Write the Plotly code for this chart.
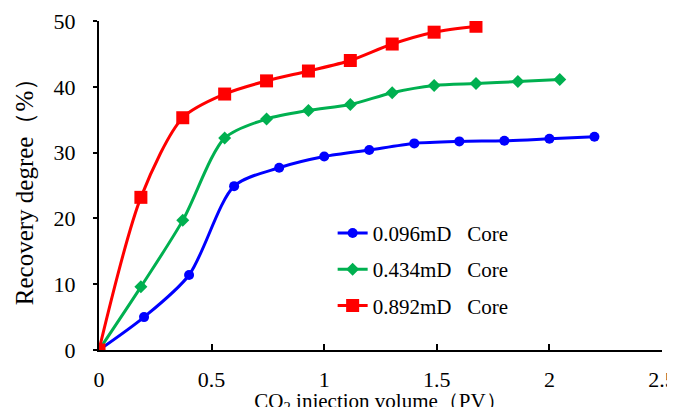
import plotly.graph_objects as go

x_blue = [0, 0.2, 0.4, 0.6, 0.8, 1.0, 1.2, 1.4, 1.6, 1.8, 2.0, 2.2]
y_blue = [0, 5.0, 11.4, 24.9, 27.7, 29.4, 30.4, 31.4, 31.7, 31.8, 32.1, 32.4]

x_green = [0, 0.186, 0.372, 0.558, 0.744, 0.93, 1.116, 1.302, 1.488, 1.674, 1.86, 2.046]
y_green = [0, 9.6, 19.7, 32.2, 35.1, 36.4, 37.3, 39.1, 40.2, 40.5, 40.8, 41.1]

x_red = [0, 0.186, 0.372, 0.558, 0.744, 0.93, 1.116, 1.302, 1.488, 1.674]
y_red = [0, 23.2, 35.3, 38.9, 40.9, 42.4, 44.0, 46.5, 48.3, 49.2]

names = ["0.096mD\u2002\u00a0Core", "0.434mD\u2002\u00a0Core", "0.892mD\u2002\u00a0Core"]
colors = ["#0000FF", "#00B050", "#FF0000"]
symbols = ["circle", "diamond", "square"]
sizes = [10, 10, 13]

FONT = "Times New Roman, Liberation Serif, serif"

fig = go.Figure()
for i, (xs, ys) in enumerate([(x_blue, y_blue), (x_green, y_green), (x_red, y_red)]):
    fig.add_trace(go.Scatter(
        x=xs, y=ys, mode="lines+markers", name=names[i], legendgroup=f"g{i}",
        line=dict(color=colors[i], width=3, shape="spline", smoothing=0.8),
        marker=dict(color=colors[i], symbol=symbols[i], size=sizes[i]),
    ))

fig.update_layout(
    width=675, height=407,
    margin=dict(l=91, r=21, t=13, b=65, autoexpand=False),
    paper_bgcolor="white", plot_bgcolor="white",
    font=dict(family=FONT, size=20, color="black"),
    showlegend=True,
    legend=dict(x=0.415, y=0.417, xanchor="left", yanchor="top",
                font=dict(family=FONT, size=21, color="black"),
                bgcolor="rgba(0,0,0,0)", tracegroupgap=6, traceorder="grouped"),
    xaxis=dict(range=[0, 2.5], dtick=0.5, showgrid=False, zeroline=False,
               showline=True, linecolor="black", linewidth=2,
               ticks="inside", ticklen=6, tickwidth=1.5, tickcolor="black",
               tickfont=dict(family=FONT, size=22, color="black"),
               ticklabelstandoff=9, ticklabeloverflow="allow", automargin=False,
               title=dict(text="CO<sub>2</sub> injection volume\uff08PV\uff09",
                          font=dict(family=FONT, size=21, color="black"), standoff=1)),
    yaxis=dict(range=[0, 50], dtick=10, showgrid=False, zeroline=False,
               showline=True, linecolor="black", linewidth=2,
               ticks="outside", ticklen=4, tickwidth=1.5, tickcolor="black",
               tickfont=dict(family=FONT, size=22, color="black"),
               ticklabelstandoff=13, automargin=False,
               title=dict(text="Recovery degree\uff08%\uff09",
                          font=dict(family=FONT, size=25, color="black"), standoff=13)),
)

fig.write_html("out.html")
